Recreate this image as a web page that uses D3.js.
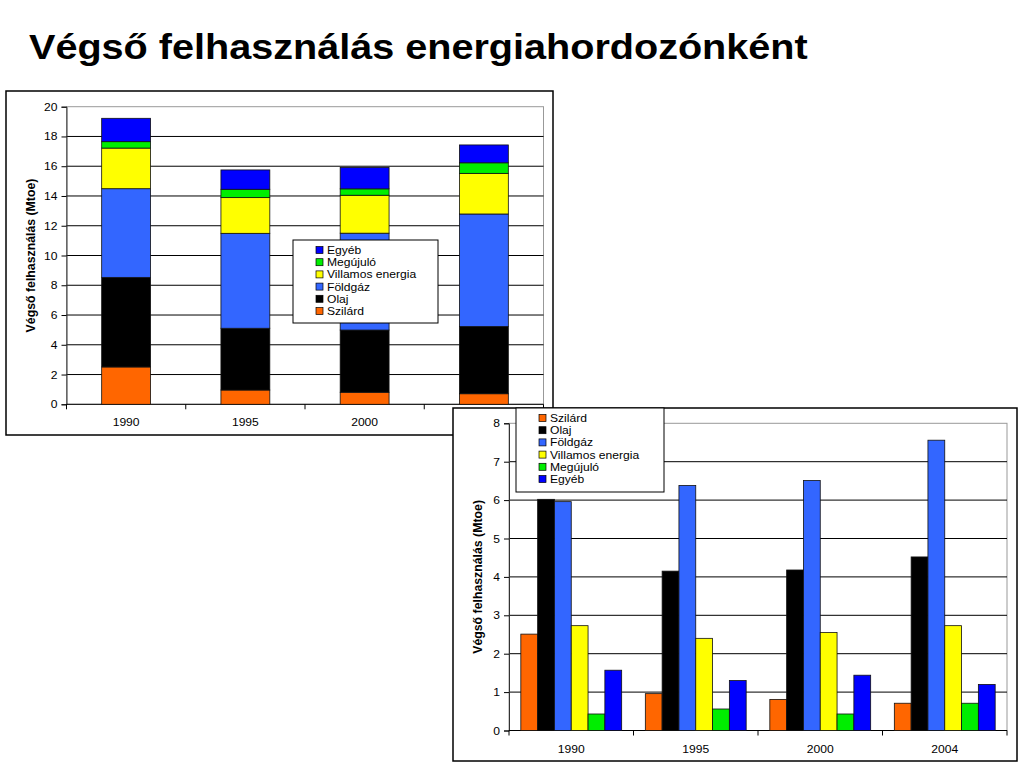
<!DOCTYPE html>
<html>
<head>
<meta charset="utf-8">
<script src="https://cdn.jsdelivr.net/npm/d3@7"></script>
<style>
  body { margin: 0; background: #fff; }
  svg { display: block; font-family: "Liberation Sans", Arial, sans-serif; }
</style>
</head>
<body>
<svg id="chart" width="1024" height="768"></svg>
<script>
// data (Mtoe)
const years = ['1990', '1995', '2000', '2004'];
const series = ['Szilárd', 'Olaj', 'Földgáz', 'Villamos energia', 'Megújuló', 'Egyéb'];
const szilard = [2.51, 0.96, 0.81, 0.71];
const olaj = [6.02, 4.15, 4.18, 4.52];
const foldgaz = [5.96, 6.38, 6.51, 7.56];
const villamos = [2.73, 2.40, 2.55, 2.73];
const megujulo = [0.43, 0.56, 0.43, 0.71];
const egyeb = [1.57, 1.30, 1.44, 1.20];
const colors = ['#ff6600', '#000000', '#3366ff', '#ffff00', '#00ee00', '#0000ff'];
const ticksStacked = [0, 2, 4, 6, 8, 10, 12, 14, 16, 18, 20];
const ticksGrouped = [0, 1, 2, 3, 4, 5, 6, 7, 8];

const values = [szilard, olaj, foldgaz, villamos, megujulo, egyeb];
const table = years.map((y, i) => {
  const row = { year: y };
  series.forEach((s, j) => row[s] = values[j][i]);
  return row;
});

// the slide is a bit wider than the font, so stretch text sideways
const SX = 1.1;
function put(sel, x, y) {
  return sel.attr('x', 0).attr('y', 0)
    .attr('transform', `translate(${x},${y}) scale(${SX},1)`);
}

const svg = d3.select('#chart');

put(svg.append('text'), 29, 59)
  .attr('font-size', 36).attr('font-weight', 'bold')
  .text('Végső felhasználás energiahordozónként');

// axes / frame common to both charts
function frame(g, box, plot, x, y, ticks, shownYears) {
  g.append('rect')
    .attr('x', box.x).attr('y', box.y).attr('width', box.w).attr('height', box.h)
    .attr('fill', '#fff').attr('stroke', '#000').attr('stroke-width', 1.5);

  // plot border (grey)
  g.append('rect')
    .attr('x', plot.l).attr('y', plot.t).attr('width', plot.r - plot.l).attr('height', plot.b - plot.t)
    .attr('fill', 'none').attr('stroke', '#999').attr('stroke-width', 1);

  g.selectAll('.grid')
    .data(ticks.slice(1, -1))
    .join('line')
    .attr('x1', plot.l).attr('x2', plot.r)
    .attr('y1', d => y(d)).attr('y2', d => y(d))
    .attr('stroke', '#000').attr('stroke-width', 1);

  const ya = g.append('g')
    .attr('transform', `translate(${plot.l},0)`)
    .call(d3.axisLeft(y).tickValues(ticks).tickSize(5).tickPadding(4));
  ya.select('.domain').attr('stroke', '#333');
  ya.selectAll('text')
    .attr('font-size', 11).attr('fill', '#000').attr('font-family', null)
    .attr('x', 0)
    .attr('transform', `translate(-9,0) scale(${SX},1)`);

  const xa = g.append('g')
    .attr('transform', `translate(0,${plot.b})`);
  xa.append('line')
    .attr('x1', plot.l).attr('x2', plot.r)
    .attr('stroke', '#000');
  xa.selectAll('.xt')
    .data(years.concat(['end']))
    .join('line')
    .attr('x1', (d, i) => plot.l + i * x.step())
    .attr('x2', (d, i) => plot.l + i * x.step())
    .attr('y1', 0).attr('y2', 5)
    .attr('stroke', '#000');
  xa.selectAll('.xl')
    .data(shownYears)
    .join('text')
    .each(function (d) { put(d3.select(this), x(d) + x.bandwidth() / 2, 22); })
    .attr('text-anchor', 'middle')
    .attr('font-size', 11)
    .text(d => d);

  g.append('text')
    .attr('transform', `translate(${box.x + 28.5},${(plot.t + plot.b) / 2}) rotate(-90)`)
    .attr('text-anchor', 'middle')
    .attr('font-size', 12.3).attr('font-weight', 'bold')
    .text('Végső felhasználás (Mtoe)');
}

function legend(g, lx, ly, w, h, order) {
  g.append('rect')
    .attr('x', lx).attr('y', ly).attr('width', w).attr('height', h)
    .attr('fill', '#fff').attr('stroke', '#000').attr('stroke-width', 1);
  const item = g.selectAll('.li')
    .data(order)
    .join('g')
    .attr('transform', (d, i) => `translate(${lx + 23},${ly + 10 + i * 12.2})`);
  item.append('rect')
    .attr('x', 0).attr('y', -3.5).attr('width', 7).attr('height', 7)
    .attr('fill', d => colors[series.indexOf(d)])
    .attr('stroke', '#000').attr('stroke-width', 0.7);
  put(item.append('text'), 11, 4)
    .attr('font-size', 11)
    .text(d => d);
}

// ---- stacked chart ----
const p1 = { l: 66.5, r: 543.5, t: 106.7, b: 404.3 };
const x1 = d3.scaleBand().domain(years).range([p1.l, p1.r]).padding(0);
const y1 = d3.scaleLinear().domain([0, 20]).range([p1.b, p1.t]);
const g1 = svg.append('g');
frame(g1, { x: 6, y: 91, w: 547, h: 344 }, p1, x1, y1, ticksStacked, years.slice(0, 3));

const stacked = d3.stack().keys(series)(table);
const bw1 = x1.step() * 0.41;
g1.selectAll('.layer')
  .data(stacked)
  .join('g')
  .attr('fill', (d, i) => colors[i])
  .selectAll('rect')
  .data(d => d)
  .join('rect')
  .attr('x', d => x1(d.data.year) + (x1.bandwidth() - bw1) / 2)
  .attr('width', bw1)
  .attr('y', d => y1(d[1]))
  .attr('height', d => y1(d[0]) - y1(d[1]))
  .attr('stroke', '#111').attr('stroke-width', 0.8);

legend(g1, 293, 240, 145, 83, series.slice().reverse());

// ---- grouped chart ----
const p2 = { l: 509, r: 1007, t: 423.3, b: 730.5 };
const x2 = d3.scaleBand().domain(years).range([p2.l, p2.r]).padding(0);
const xs = d3.scaleBand().domain(series)
  .range([x2.step() * 0.095, x2.step() * 0.905]).padding(0);
const y2 = d3.scaleLinear().domain([0, 8]).range([p2.b, p2.t]);
const g2 = svg.append('g');
frame(g2, { x: 453, y: 408, w: 564, h: 353 }, p2, x2, y2, ticksGrouped, years);

g2.selectAll('.grp')
  .data(table)
  .join('g')
  .attr('transform', d => `translate(${x2(d.year)},0)`)
  .selectAll('rect')
  .data(d => series.map((s, j) => ({ key: s, value: d[s], color: colors[j] })))
  .join('rect')
  .attr('x', d => xs(d.key))
  .attr('width', xs.bandwidth())
  .attr('y', d => y2(d.value))
  .attr('height', d => y2(0) - y2(d.value))
  .attr('fill', d => d.color)
  .attr('stroke', '#111').attr('stroke-width', 0.8);

legend(g2, 516, 408, 148, 84, series);
</script>
</body>
</html>
